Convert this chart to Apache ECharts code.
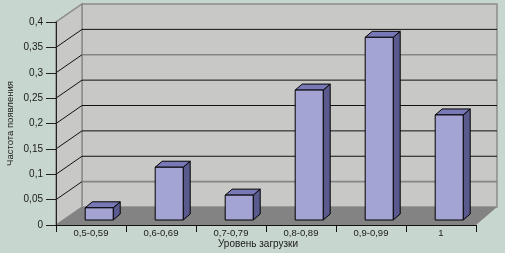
<!DOCTYPE html>
<html><head><meta charset="utf-8">
<script src="https://cdn.jsdelivr.net/npm/echarts@6/dist/echarts.min.js"></script>
<style>html,body{margin:0;padding:0;background:#c7d6cf;}#c{width:505px;height:253px;}</style>
</head><body><div id="c"></div>
<script>
const categories = ['0,5-0,59', '0,6-0,69', '0,7-0,79', '0,8-0,89', '0,9-0,99', '1'];
const frequencies = [0.024, 0.104, 0.049, 0.256, 0.36, 0.207];
const yTicks = [0, 0.05, 0.1, 0.15, 0.2, 0.25, 0.3, 0.35, 0.4];
const xTitle = 'Уровень загрузки';
const yTitle = 'Частота появления';

function hasFont(name) {
  const ctx = document.createElement('canvas').getContext('2d');
  const s = 'Уровень 0,59 abcMW';
  ctx.font = '20px monospace';
  const a = ctx.measureText(s).width;
  ctx.font = "20px '" + name + "', monospace";
  return Math.abs(ctx.measureText(s).width - a) > 0.5;
}
const NARROW = hasFont('Liberation Sans Narrow');
const FONT = NARROW ? "'Liberation Sans Narrow', sans-serif" : "'Liberation Sans', sans-serif";
const LABEL_SIZE = NARROW ? 10.5 : 9.5;
const YLABEL_SIZE = NARROW ? 11 : 10;
const TITLE_SIZE = NARROW ? 11.5 : 10;

const DEPTH_X = 26, DEPTH_Y = -18, PERSP = 5;
const BAR_DX = 8.2, BAR_DY = -5, BAR_W = 28, BAR_SX = 7, BAR_SY = -6;
const yMin = yTicks[0], yMax = yTicks[yTicks.length - 1];

function frame(api) {
  const c0 = api.coord([0, yMin]);
  const bw = api.size([1, 0])[0];
  const L = c0[0] - bw / 2;
  const R = api.coord([categories.length - 1, yMin])[0] + bw / 2;
  const yb = c0[1];
  const yt = api.coord([0, yMax])[1];
  const bx = fx => L + DEPTH_X + (fx - L) * (R - L - PERSP) / (R - L);
  return { L, R, yb, yt, bx };
}

const chart = echarts.init(document.getElementById('c'), null, { renderer: 'canvas' });
chart.setOption({
  animation: false,
  backgroundColor: '#c7d6cf',
  grid: { left: 56, right: 29, top: 22, bottom: 28, containLabel: false, outerBoundsMode: 'none' },
  xAxis: {
    type: 'category',
    data: categories,
    boundaryGap: true,
    axisLine: { lineStyle: { color: '#111', width: 1 } },
    axisTick: { show: true, length: 7, alignWithLabel: false, lineStyle: { color: '#111' } },
    axisLabel: { margin: 3, fontSize: LABEL_SIZE, color: '#1a1a1a', fontFamily: FONT },
    name: xTitle, nameLocation: 'middle', nameGap: 14, nameMoveOverlap: false,
    nameTextStyle: { fontSize: TITLE_SIZE, color: '#1a1a1a', fontFamily: FONT, padding: [0, 16, 0, 0] },
    splitLine: { show: false }, z: 10
  },
  yAxis: {
    type: 'value', min: yMin, max: yMax, interval: 0.05,
    axisLine: { show: true, lineStyle: { color: '#222', width: 1 } },
    axisTick: { show: true, length: 10, lineStyle: { color: '#222' } },
    axisLabel: { margin: 13, fontSize: YLABEL_SIZE, color: '#1a1a1a', fontFamily: FONT,
      formatter: v => String(+v.toFixed(2)).replace('.', ',') },
    splitLine: { show: false },
    name: yTitle, nameLocation: 'middle', nameGap: 41, nameRotate: 90, nameMoveOverlap: false,
    nameTextStyle: { fontSize: LABEL_SIZE, color: '#1a1a1a', fontFamily: FONT },
    z: 10
  },
  series: [
    {
      type: 'custom', coordinateSystem: 'cartesian2d', clip: false, silent: true, z: 1,
      data: [[0, yMin]],
      renderItem: (params, api) => {
        const f = frame(api);
        const bl = f.bx(f.L), br = f.bx(f.R);
        return { type: 'group', children: [
          { type: 'polygon', shape: { points: [[bl, f.yt + DEPTH_Y], [br, f.yt + DEPTH_Y], [br, f.yb + DEPTH_Y], [bl, f.yb + DEPTH_Y]] },
            style: { fill: '#c8c8c6', stroke: '#8c8c8c', lineWidth: 1.5 } },
          { type: 'polygon', shape: { points: [[f.L, f.yb], [f.L, f.yt], [bl, f.yt + DEPTH_Y], [bl, f.yb + DEPTH_Y]] },
            style: { fill: '#c8c8c6', stroke: '#8c8c8c', lineWidth: 1.5 } },
          { type: 'polygon', shape: { points: [[f.L, f.yb], [f.R, f.yb], [br, f.yb + DEPTH_Y], [bl, f.yb + DEPTH_Y]] },
            style: { fill: '#838383', stroke: null } }
        ] };
      }
    },
    {
      type: 'custom', coordinateSystem: 'cartesian2d', clip: false, silent: true, z: 2,
      data: yTicks.slice(1, -1).map(v => [0, v]),
      renderItem: (params, api) => {
        const f = frame(api);
        const v = api.value(1);
        const y = api.coord([0, v])[1];
        const bl = f.bx(f.L), br = f.bx(f.R);
        const grey = Math.abs(v - 0.3) < 1e-9 || Math.abs(v - 0.05) < 1e-9;
        return { type: 'group', children: [
          { type: 'line', shape: { x1: f.L, y1: y, x2: bl, y2: y + DEPTH_Y }, style: { stroke: '#111', lineWidth: 1 } },
          { type: 'line', shape: { x1: bl, y1: y + DEPTH_Y, x2: br, y2: y + DEPTH_Y },
            style: { stroke: grey ? '#858585' : '#111', lineWidth: grey ? 1.6 : 1 } }
        ] };
      }
    },
    {
      type: 'custom', coordinateSystem: 'cartesian2d', clip: false, z: 3,
      data: frequencies.map((v, i) => [i, v]),
      renderItem: (params, api) => {
        const i = api.value(0), v = api.value(1);
        const p0 = api.coord([i, 0]), p1 = api.coord([i, v]);
        const xl = p0[0] + BAR_DX - BAR_W / 2, xr = xl + BAR_W;
        const yb = p0[1] + BAR_DY, yt = p1[1] + BAR_DY;
        const st = { stroke: '#000', lineWidth: 1, lineJoin: 'round' };
        return { type: 'group', children: [
          { type: 'polygon', shape: { points: [[xr, yt], [xr + BAR_SX, yt + BAR_SY], [xr + BAR_SX, yb + BAR_SY], [xr, yb]] },
            style: Object.assign({ fill: '#5a5a8e' }, st) },
          { type: 'polygon', shape: { points: [[xl, yt], [xl + BAR_SX, yt + BAR_SY], [xr + BAR_SX, yt + BAR_SY], [xr, yt]] },
            style: Object.assign({ fill: '#7878b6' }, st) },
          { type: 'rect', shape: { x: xl, y: yt, width: BAR_W, height: yb - yt },
            style: Object.assign({ fill: '#a4a4d4' }, st) }
        ] };
      }
    }
  ]
});
</script></body></html>
